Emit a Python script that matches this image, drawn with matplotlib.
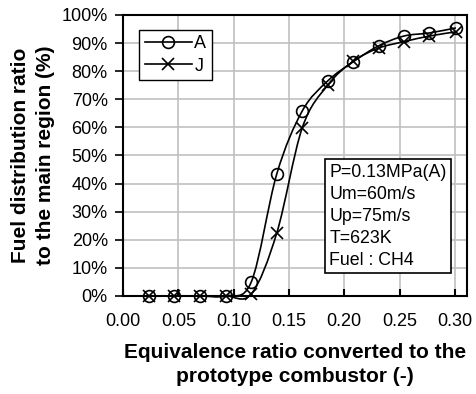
import numpy as np
import matplotlib
matplotlib.use("Agg")
import matplotlib.pyplot as plt
from matplotlib.path import Path
from matplotlib.patches import PathPatch
from matplotlib.ticker import PercentFormatter, FormatStrFormatter

plt.rcParams['font.family'] = ['Liberation Sans', 'DejaVu Sans']

phi = [0.0232, 0.0464, 0.0696, 0.0928, 0.116, 0.139, 0.162,
       0.185, 0.208, 0.231, 0.254, 0.277, 0.301]
ratio_a = [0.0, 0.0, 0.0, 0.0, 0.05, 0.434, 0.658,
           0.765, 0.833, 0.89, 0.925, 0.936, 0.954]
ratio_j = [0.0, 0.0, 0.0, 0.0, 0.007, 0.224, 0.598,
           0.75, 0.835, 0.882, 0.905, 0.925, 0.94]
conditions = ["P=0.13MPa(A)", "Um=60m/s", "Up=75m/s", "T=623K", "Fuel : CH4"]


def smooth_path(x, y):
    # excel style smoothed line: cubic bezier through each point
    x = np.asarray(x)
    y = np.asarray(y)
    verts = [(x[0], y[0])]
    codes = [Path.MOVETO]
    n = len(x)
    for i in range(n - 1):
        x0, y0 = (x[i - 1], y[i - 1]) if i > 0 else (x[i], y[i])
        x3, y3 = (x[i + 2], y[i + 2]) if i + 2 < n else (x[i + 1], y[i + 1])
        c1 = (x[i] + (x[i + 1] - x0) / 6, y[i] + (y[i + 1] - y0) / 6)
        c2 = (x[i + 1] - (x3 - x[i]) / 6, y[i + 1] - (y3 - y[i]) / 6)
        verts += [c1, c2, (x[i + 1], y[i + 1])]
        codes += [Path.CURVE4] * 3
    return Path(verts, codes)


fig, ax = plt.subplots(figsize=(4.77, 3.94), dpi=100)
fig.subplots_adjust(left=0.258, right=0.979, top=0.962, bottom=0.249)

for y in (ratio_a, ratio_j):
    ax.add_patch(PathPatch(smooth_path(phi, y), fill=False, lw=1.2, color='black',
                           zorder=3, clip_on=False))

ax.plot(phi, ratio_a, ls='none', marker='o', ms=8.5, mfc='none', mec='black', mew=1.2,
        zorder=4, clip_on=False)
ax.plot(phi, ratio_j, ls='none', marker='x', ms=9, mec='black', mew=1.2,
        zorder=4, clip_on=False)
# legend handles
ax.plot([], [], '-o', color='black', mfc='none', ms=8.5, lw=1.2, mew=1.2, label='A')
ax.plot([], [], '-x', color='black', ms=9, lw=1.2, mew=1.2, label='J')

ax.set_xlim(0, 0.311)
ax.set_ylim(0, 1)
ax.set_xticks(np.arange(0, 0.31, 0.05))
ax.set_yticks(np.arange(0, 1.01, 0.1))
ax.xaxis.set_major_formatter(FormatStrFormatter('%.2f'))
ax.yaxis.set_major_formatter(PercentFormatter(1.0, decimals=0))
ax.grid(True, color='#c0c0c0', lw=1.2, zorder=0)
ax.set_axisbelow(True)
ax.tick_params(axis='x', direction='in', length=5, width=1.5, labelsize=13, pad=12)
ax.tick_params(axis='y', direction='out', length=6, width=1.2, labelsize=13, pad=5)
for s in ax.spines.values():
    s.set_linewidth(1.5)

ax.set_xlabel("Equivalence ratio converted to the\nprototype combustor (-)",
              fontsize=15, fontweight='bold', labelpad=10, linespacing=1.3)
ax.set_ylabel("Fuel distribution ratio\nto the main region (%)",
              fontsize=15, fontweight='bold', labelpad=5, linespacing=1.35)

leg = ax.legend(loc='upper left', bbox_to_anchor=(0.047, 0.947), fontsize=13,
                frameon=True, fancybox=False, edgecolor='black', framealpha=1,
                handlelength=2.6, handletextpad=0.15, borderpad=0.3, labelspacing=0.3,
                borderaxespad=0)
leg.get_frame().set_linewidth(1.0)

ax.text(0.6, 0.47, "\n".join(conditions), transform=ax.transAxes, fontsize=12.8,
        va='top', ha='left', linespacing=1.38,
        bbox=dict(boxstyle='square,pad=0.25', fc='white', ec='black', lw=1.2), zorder=5)

fig.savefig("out.png", dpi=100)
